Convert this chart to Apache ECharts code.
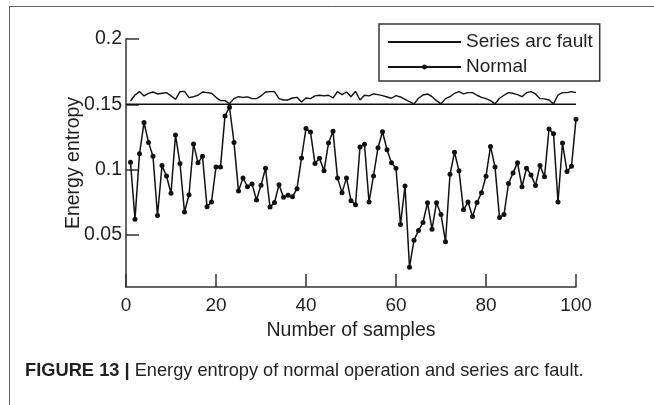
<!DOCTYPE html>
<html>
<head>
<meta charset="utf-8">
<script src="https://cdn.jsdelivr.net/npm/echarts@6/dist/echarts.min.js"></script>
<style>
html,body{margin:0;padding:0;background:#fff;}
#c{width:654px;height:405px;}
</style>
</head>
<body>
<div id="c"></div>
<script>
// Sample numbers 1..100
const samples = Array.from({length: 100}, (_, k) => k + 1);

// Series arc fault energy entropy
const arcFault = [
  0.1525,0.1571,0.1597,0.1564,0.1584,0.1594,0.1579,0.1584,0.1589,0.1564,
  0.1538,0.1597,0.1599,0.1551,0.1558,0.1569,0.1594,0.1589,0.1584,0.1553,
  0.1528,0.1528,0.1505,0.1543,0.1558,0.1553,0.1556,0.1543,0.1543,0.1564,
  0.1594,0.1597,0.1597,0.1543,0.1533,0.1533,0.1548,0.1553,0.1518,0.1548,
  0.1543,0.1564,0.1569,0.1564,0.1569,0.1548,0.1597,0.1574,0.1594,0.1558,
  0.1599,0.1533,0.1569,0.1564,0.1579,0.1574,0.1566,0.1556,0.1546,0.1566,
  0.1556,0.1538,0.1520,0.1503,0.1546,0.1571,0.1579,0.1558,0.1528,0.1503,
  0.1543,0.1558,0.1584,0.1597,0.1579,0.1589,0.1589,0.1569,0.1553,0.1543,
  0.1528,0.1503,0.1546,0.1569,0.1589,0.1584,0.1574,0.1558,0.1589,0.1597,
  0.1579,0.1543,0.1541,0.1533,0.1503,0.1571,0.1589,0.1589,0.1597,0.1589
];

// Normal operation energy entropy
const normal = [
  0.1056,0.0620,0.1120,0.1360,0.1208,0.1101,0.0648,0.1030,0.0950,0.0818,
  0.1264,0.1046,0.0674,0.0807,0.1196,0.1051,0.1101,0.0714,0.0751,0.1020,
  0.1020,0.1411,0.1477,0.1208,0.0835,0.0936,0.0868,0.0890,0.0766,0.0879,
  0.1010,0.0712,0.0747,0.0884,0.0788,0.0802,0.0792,0.0853,0.1089,0.1314,
  0.1287,0.1046,0.1086,0.0990,0.1203,0.1294,0.0936,0.0823,0.0936,0.0761,
  0.0731,0.1173,0.1193,0.0751,0.0951,0.1167,0.1289,0.1152,0.1051,0.1010,
  0.0579,0.0873,0.0252,0.0459,0.0533,0.0594,0.0746,0.0543,0.0746,0.0655,
  0.0447,0.0964,0.1132,0.0990,0.0691,0.0751,0.0640,0.0747,0.0823,0.0949,
  0.1177,0.1020,0.0633,0.0655,0.0893,0.0974,0.1051,0.0868,0.1010,0.0959,
  0.0878,0.1030,0.0944,0.1310,0.1275,0.0751,0.1203,0.0985,0.1025,0.1386
];

// Threshold line level and its x extent
const thresholdLevel = 0.15;
const thresholdX = [0, 100];

// Axis ticks
const xTicks = [0, 20, 40, 60, 80, 100];
const yTicks = [0.05, 0.1, 0.15, 0.2];

const seriesNames = ['Series arc fault', 'Normal'];
const captionBold = 'FIGURE 13 |';
const captionText = ' Energy entropy of normal operation and series arc fault.';

const FONT = 'Liberation Sans, Arial, Helvetica, sans-serif';
const INK = '#231f20';

const chart = echarts.init(document.getElementById('c'), null, {renderer: 'canvas'});
chart.setOption({
  animation: false,
  backgroundColor: '#ffffff',
  grid: {left: 126, right: 78, top: 39, bottom: 118, containLabel: false},
  legend: {
    orient: 'vertical',
    left: 379, top: 24,
    data: [
      {name: seriesNames[0], itemStyle: {color: 'rgba(0,0,0,0)', borderWidth: 0, opacity: 0}},
      {name: seriesNames[1]}
    ],
    itemWidth: 73, itemHeight: 6, itemGap: 5,
    padding: [8, 7, 4, 8],
    borderColor: '#333', borderWidth: 1.5,
    textStyle: {fontFamily: FONT, fontSize: 19, color: INK, lineHeight: 20},
    backgroundColor: '#fff'
  },
  xAxis: {
    type: 'value', min: 0, max: 100, interval: 20,
    name: 'Number of samples', nameLocation: 'middle', nameGap: 34, nameMoveOverlap: false,
    nameTextStyle: {fontFamily: FONT, fontSize: 19.5, color: INK},
    axisLine: {show: true, lineStyle: {color: '#333', width: 1.5}},
    axisTick: {show: true, inside: true, length: 13, customValues: xTicks, lineStyle: {color: '#333', width: 1.5}},
    axisLabel: {customValues: xTicks, fontFamily: FONT, fontSize: 19, color: INK, margin: 9},
    splitLine: {show: false}
  },
  yAxis: {
    type: 'value', min: 0.01, max: 0.2,
    name: 'Energy entropy', nameLocation: 'middle', nameGap: 42, nameRotate: 90, nameMoveOverlap: false,
    nameTextStyle: {fontFamily: FONT, fontSize: 19.5, color: INK},
    axisLine: {show: true, lineStyle: {color: '#333', width: 1.5}},
    axisTick: {show: true, inside: true, length: 13, customValues: yTicks, lineStyle: {color: '#333', width: 1.5}},
    axisLabel: {customValues: yTicks, fontFamily: FONT, fontSize: 19.5, color: INK, margin: 4,
      padding: [6, 0, 0, 0],
      formatter: v => String(Math.round(v * 100) / 100)},
    splitLine: {show: false}
  },
  series: [
    {
      name: seriesNames[0], type: 'line',
      data: samples.map((s, k) => [s, arcFault[k]]),
      symbol: 'none', lineStyle: {color: '#111', width: 1.4}, itemStyle: {color: '#111'}
    },
    {
      name: seriesNames[1], type: 'line',
      data: samples.map((s, k) => [s, normal[k]]),
      symbol: 'circle', symbolSize: 5, showSymbol: true,
      lineStyle: {color: '#111', width: 1.5}, itemStyle: {color: '#111'}
    },
    {
      name: 'threshold', type: 'line',
      data: thresholdX.map(x => [x, thresholdLevel]),
      symbol: 'none', lineStyle: {color: '#111', width: 1.5}, silent: true
    }
  ],
  graphic: [
    {type: 'line', shape: {x1: 9.5, y1: 6.5, x2: 654, y2: 6.5}, style: {stroke: '#666', lineWidth: 1}},
    {type: 'line', shape: {x1: 9.5, y1: 6.5, x2: 9.5, y2: 405}, style: {stroke: '#666', lineWidth: 1}},
    {
      type: 'text', left: 25, top: 362,
      style: {
        text: '{b|' + captionBold + '}' + captionText,
        fontFamily: FONT, fontSize: 18.2, fill: INK,
        rich: {b: {fontWeight: 'bold', fontFamily: FONT, fontSize: 18.3, fill: INK}}
      }
    }
  ]
});
</script>
</body>
</html>
